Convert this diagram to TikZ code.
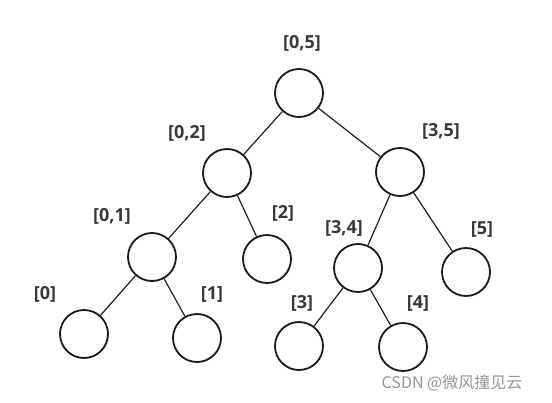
\documentclass[tikz,border=0pt]{standalone}
\usepackage{fontspec}
\setmainfont{Open Sans}
\newfontfamily\cjk{Noto Sans CJK SC}
\begin{document}
\begin{tikzpicture}[x=1pt,y=-1pt,
  tn/.style={circle,draw=black!90,line width=1.8pt,minimum size=48pt,inner sep=0pt},
  lbl/.style={font=\fontsize{18}{20}\selectfont\bfseries,text=black!78},
  edge/.style={draw=black!88,line width=1.2pt}]
\useasboundingbox (0,0) rectangle (552,402);
\node[tn] (r) at (299,93) {};
\node[tn] (a) at (227,173) {};
\node[tn] (b) at (400,172) {};
\node[tn] (c) at (152,257) {};
\node[tn] (d) at (267,259) {};
\node[tn] (e) at (358,268) {};
\node[tn] (f) at (466,272) {};
\node[tn] (g) at (84,334) {};
\node[tn] (h) at (197,338) {};
\node[tn] (i) at (299,346) {};
\node[tn] (j) at (403,347) {};
\draw[edge] (r) -- (a);
\draw[edge] (r) -- (b);
\draw[edge] (a) -- (c);
\draw[edge] (a) -- (d);
\draw[edge] (b) -- (e);
\draw[edge] (b) -- (f);
\draw[edge] (c) -- (g);
\draw[edge] (c) -- (h);
\draw[edge] (e) -- (i);
\draw[edge] (e) -- (j);
\node[lbl] (lr) at (302,43) {[0,5]};
\node[lbl] (la) at (187,133) {[0,2]};
\node[lbl] (lb) at (441,131) {[3,5]};
\node[lbl] (lc) at (112,216) {[0,1]};
\node[lbl] (ld) at (283,213) {[2]};
\node[lbl] (le) at (344,228) {[3,4]};
\node[lbl] (lf) at (482,229) {[5]};
\node[lbl] (lg) at (45,294) {[0]};
\node[lbl] (lh) at (212,294) {[1]};
\node[lbl] (li) at (302,303) {[3]};
\node[lbl] (lj) at (418,303) {[4]};
\node[font=\cjk\fontsize{16}{18}\selectfont,text=black!42] (wm) at (452,383) {CSDN @微风撞见云};
\end{tikzpicture}
\end{document}
